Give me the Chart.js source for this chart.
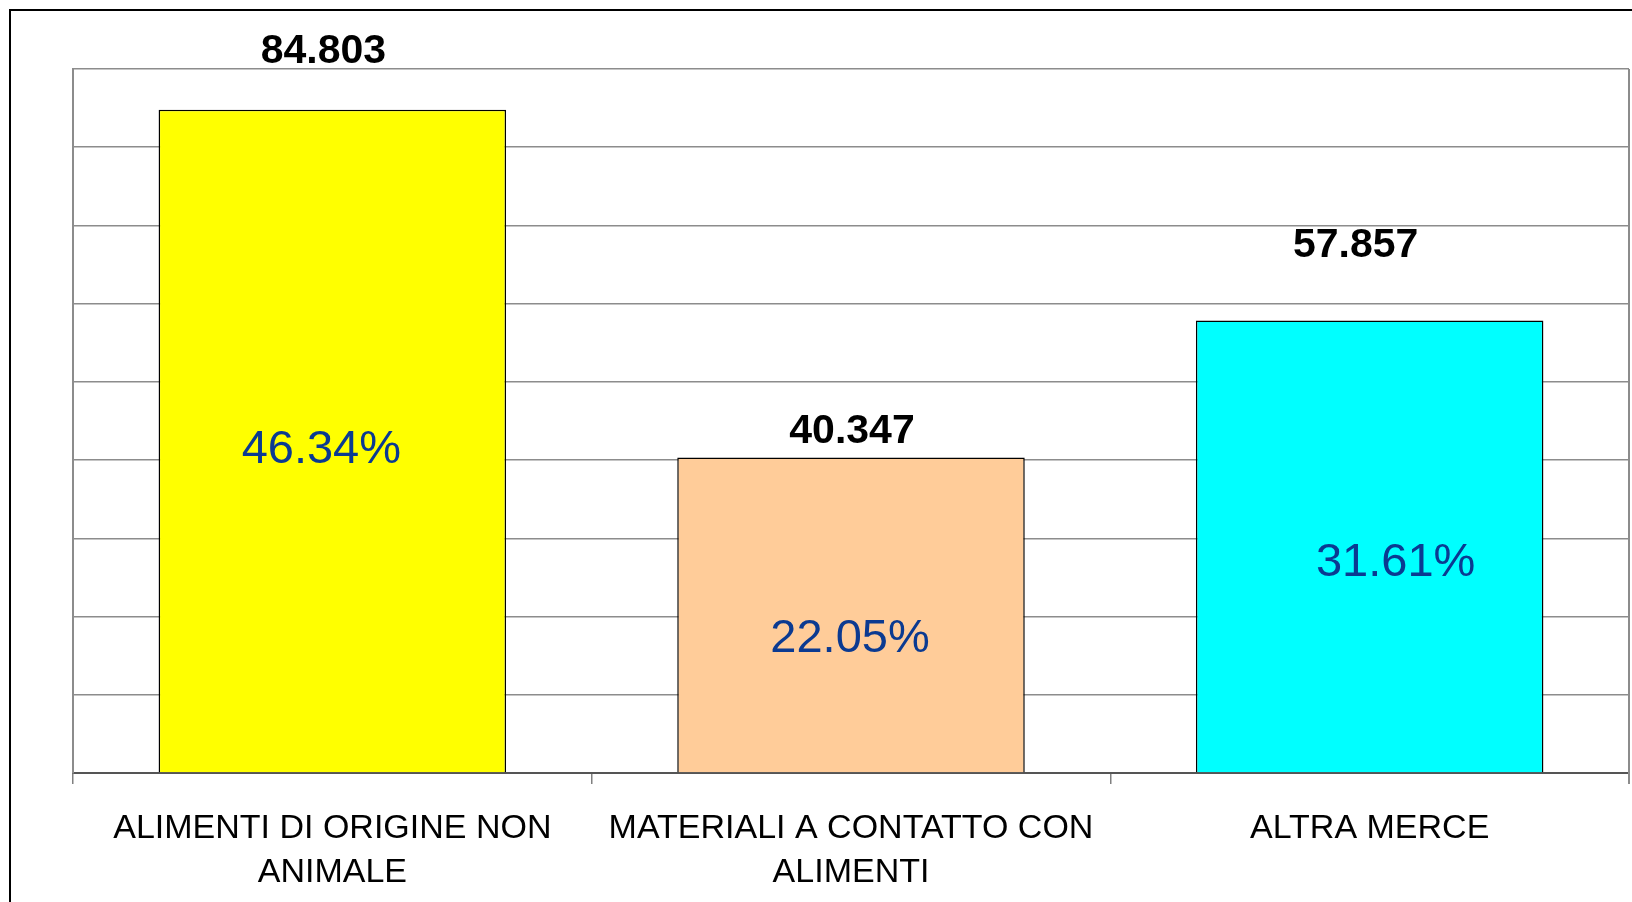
<!DOCTYPE html>
<html>
<head>
<meta charset="utf-8">
<script src="https://cdn.jsdelivr.net/npm/chart.js@4/dist/chart.umd.min.js"></script>
<style>
  html, body { margin: 0; padding: 0; background: #fff; }
  #wrap { width: 1632px; height: 902px; }
</style>
</head>
<body>
<div id="wrap"><canvas id="chart"></canvas></div>
<script>
const categories = [
  ["ALIMENTI DI ORIGINE NON", "ANIMALE"],
  ["MATERIALI A CONTATTO CON", "ALIMENTI"],
  ["ALTRA MERCE"]
];
const values = [84803, 40347, 57857];
const valueLabels = ["84.803", "40.347", "57.857"];
const shareLabels = ["46.34%", "22.05%", "31.61%"];
const barColors = ["#FFFF00", "#FFCC99", "#00FFFF"];

// label placement in the original is hand-adjusted per bar
const valueOffsets = [{ dx: -9, gap: 47 }, { dx: 1, gap: 14 }, { dx: -14, gap: 63 }];
const shareOffsets = [{ dx: -11, dy: 22 }, { dx: -1, dy: 37 }, { dx: 26, dy: 30 }];

const framePlugin = {
  id: "frame",
  beforeDraw(chart) {
    const ctx = chart.ctx;
    ctx.save();
    ctx.fillStyle = "#fff";
    ctx.fillRect(0, 0, chart.width, chart.height);
    ctx.strokeStyle = "#000";
    ctx.lineWidth = 2;
    ctx.strokeRect(10, 10, chart.width + 20, chart.height + 20);
    ctx.restore();
  },
  afterDraw(chart) {
    const a = chart.chartArea;
    const ctx = chart.ctx;
    ctx.save();
    ctx.strokeStyle = "#8c8c8c";
    ctx.lineWidth = 2;
    ctx.beginPath();
    ctx.moveTo(a.right, a.top);
    ctx.lineTo(a.right, a.bottom + 11);
    ctx.stroke();
    ctx.restore();
  }
};

const labelPlugin = {
  id: "barLabels",
  afterDatasetsDraw(chart) {
    const ctx = chart.ctx;
    const meta = chart.getDatasetMeta(0);
    ctx.save();
    ctx.textAlign = "center";
    ctx.textBaseline = "alphabetic";
    meta.data.forEach((bar, i) => {
      ctx.fillStyle = "#000";
      ctx.font = "bold 41px 'Liberation Sans', Arial, sans-serif";
      ctx.fillText(valueLabels[i], bar.x + valueOffsets[i].dx, bar.y - valueOffsets[i].gap);
      const mid = (bar.y + bar.base) / 2;
      ctx.fillStyle = "#0b3a91";
      ctx.font = "47px 'Liberation Sans', Arial, sans-serif";
      ctx.fillText(shareLabels[i], bar.x + shareOffsets[i].dx, mid + shareOffsets[i].dy);
    });
    ctx.restore();
  }
};

new Chart(document.getElementById("chart"), {
  type: "bar",
  data: {
    labels: categories,
    datasets: [{
      data: values,
      backgroundColor: barColors,
      borderColor: "#000",
      borderWidth: 1.5,
      categoryPercentage: 1,
      barPercentage: 0.67
    }]
  },
  options: {
    responsive: true,
    maintainAspectRatio: false,
    animation: false,
    layout: { padding: { top: 69, right: 3, left: 73, bottom: 9 } },
    plugins: {
      legend: { display: false },
      tooltip: { enabled: false }
    },
    scales: {
      x: {
        grid: {
          drawOnChartArea: false,
          drawTicks: true,
          tickLength: 11,
          color: "#808080",
          lineWidth: 1.5
        },
        border: { color: "#555", width: 2 },
        ticks: {
          color: "#000",
          padding: 23,
          maxRotation: 0,
          autoSkip: false,
          font: { family: "'Liberation Sans', Arial, sans-serif", size: 34, lineHeight: "44px" }
        },
        afterFit(scale) { scale.height = 120; }
      },
      y: {
        min: 0,
        max: 90000,
        ticks: { display: false, stepSize: 10000 },
        grid: { color: "#8c8c8c", lineWidth: 1.5, drawTicks: false },
        border: { color: "#8c8c8c", width: 2 },
        afterFit(scale) { scale.width = 0; }
      }
    }
  },
  plugins: [framePlugin, labelPlugin]
});
</script>
</body>
</html>
